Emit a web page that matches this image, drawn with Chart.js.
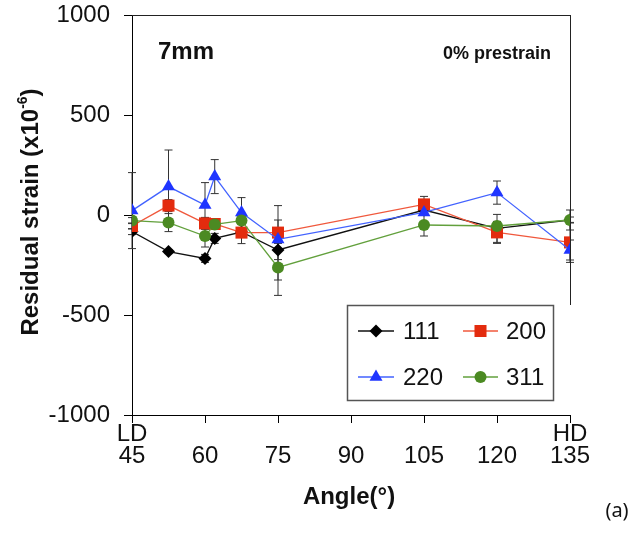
<!DOCTYPE html>
<html>
<head>
<meta charset="utf-8">
<script src="https://cdn.jsdelivr.net/npm/chart.js@4.4.0/dist/chart.umd.min.js"></script>
<style>
  html, body { margin: 0; padding: 0; background: #fff; }
  #wrap { position: relative; width: 631px; height: 533px; }
</style>
</head>
<body>
<div id="wrap"><canvas id="strainChart" width="631" height="533"></canvas></div>
<script>
// ===== DATA =====
const angles = [45, 52.5, 60, 62, 67.5, 75, 105, 120, 135];
const xTicks = [45, 60, 75, 90, 105, 120, 135];
const xTickTop = { 45: "LD", 135: "HD" };
const yTicks = [-1000, -500, 0, 500, 1000];

const strain111 = [-83, -183, -217, -117, -85, -175, 25, -67, -25];
const strain200 = [-55, 47, -42, -45, -88, -88, 53, -87, -137];
const strain220 = [22, 142, 50, 192, 12, -122, 13, 112, -175];
const strain311 = [-28, -38, -105, -47, -28, -262, -50, -55, -25];

const err111 = [15, 10, 20, 25, 20, 150, 15, 70, 15];
const err200 = [15, 30, 30, 20, 55, 135, 40, 55, 100];
const err220 = [190, 183, 112, 85, 75, 20, 10, 58, 50];
const err311 = [15, 45, 55, 15, 20, 140, 55, 20, 50];

const seriesNames = ["111", "200", "220", "311"];
const rightFrameEnd = -450; // right frame line stops here

const FONT = "'Liberation Sans', Arial, sans-serif";

// ===== SERIES STYLE =====
const series = [
  { name: seriesNames[0], values: strain111, err: err111, point: "#000000", line: "#111111", style: "rectRot", r: 6.5, order: 4 },
  { name: seriesNames[1], values: strain200, err: err200, point: "#e32b0e", line: "#f0583c", style: "rect", r: 8.5, order: 3 },
  { name: seriesNames[2], values: strain220, err: err220, point: "#1f35ff", line: "#4262ff", style: "triangle", r: 7.5, order: 2 },
  { name: seriesNames[3], values: strain311, err: err311, point: "#4b8a22", line: "#62a03c", style: "circle", r: 6, order: 1 }
];

// ===== ERROR BARS + FRAME + TEXT =====
const extrasPlugin = {
  id: "extras",
  beforeDatasetsDraw(chart) {
    const ctx = chart.ctx, xs = chart.scales.x, ys = chart.scales.y, a = chart.chartArea;
    ctx.save();
    ctx.beginPath();
    ctx.rect(a.left - 10, a.top, a.right - a.left + 20, a.bottom - a.top);
    ctx.clip();
    ctx.strokeStyle = "#333";
    ctx.lineWidth = 1;
    series.forEach(s => {
      s.values.forEach((v, j) => {
        const x = xs.getPixelForValue(angles[j]);
        const yHi = ys.getPixelForValue(v + s.err[j]);
        const yLo = ys.getPixelForValue(v - s.err[j]);
        ctx.beginPath();
        ctx.moveTo(x, yHi); ctx.lineTo(x, yLo);
        ctx.moveTo(x - 4, yHi); ctx.lineTo(x + 4, yHi);
        ctx.moveTo(x - 4, yLo); ctx.lineTo(x + 4, yLo);
        ctx.stroke();
      });
    });
    ctx.restore();

    // frame top + right
    ctx.save();
    ctx.strokeStyle = "#222";
    ctx.lineWidth = 1;
    ctx.beginPath();
    ctx.moveTo(a.left, a.top + 0.5); ctx.lineTo(a.right, a.top + 0.5);
    ctx.moveTo(a.right + 0.5, a.top); ctx.lineTo(a.right + 0.5, ys.getPixelForValue(rightFrameEnd));
    ctx.stroke();
    ctx.restore();
  },
  afterDraw(chart) {
    const ctx = chart.ctx;
    ctx.save();
    ctx.fillStyle = "#111";

    // panel labels
    ctx.textBaseline = "alphabetic";
    ctx.textAlign = "left";
    ctx.font = "bold 24px " + FONT;
    ctx.fillText("7mm", 158, 59);
    ctx.textAlign = "right";
    ctx.font = "bold 18px " + FONT;
    ctx.fillText("0% prestrain", 551, 59);

    // y title with superscript
    ctx.save();
    ctx.translate(31, 212);
    ctx.rotate(-Math.PI / 2);
    const main = "Residual strain (x10", sup = "-6", close = ")";
    ctx.font = "bold 24px " + FONT;
    const w1 = ctx.measureText(main).width, w3 = ctx.measureText(close).width;
    ctx.font = "bold 14px " + FONT;
    const w2 = ctx.measureText(sup).width;
    let x0 = -(w1 + w2 + w3) / 2;
    ctx.textAlign = "left";
    ctx.textBaseline = "middle";
    ctx.font = "bold 24px " + FONT;
    ctx.fillText(main, x0, 0);
    ctx.font = "bold 14px " + FONT;
    ctx.fillText(sup, x0 + w1, -8);
    ctx.font = "bold 24px " + FONT;
    ctx.fillText(close, x0 + w1 + w2, 0);
    ctx.restore();

    // x title
    ctx.textAlign = "center";
    ctx.textBaseline = "middle";
    ctx.font = "bold 24px " + FONT;
    ctx.fillText("Angle(°)", 349, 497);

    // (a)
    ctx.font = "20px 'Noto Sans', sans-serif";
    ctx.fillText("(a)", 617, 511);

    // legend
    ctx.strokeStyle = "#555";
    ctx.lineWidth = 1.5;
    ctx.strokeRect(347.5, 305.5, 206, 95);
    const cols = [{ l: 358, r: 394, t: 403 }, { l: 463, r: 498, t: 506 }];
    const rows = [331, 377];
    series.forEach((s, i) => {
      const c = cols[i % 2], y = rows[Math.floor(i / 2)];
      ctx.strokeStyle = s.line;
      ctx.lineWidth = 1.3;
      ctx.beginPath();
      ctx.moveTo(c.l, y); ctx.lineTo(c.r, y);
      ctx.stroke();
      ctx.fillStyle = s.point;
      Chart.helpers.drawPoint(ctx, { pointStyle: s.style, radius: s.r, rotation: 0, borderWidth: 0 }, (c.l + c.r) / 2, y);
      ctx.fillStyle = "#111";
      ctx.font = "24px " + FONT;
      ctx.textAlign = "left";
      ctx.textBaseline = "middle";
      ctx.fillText(s.name, c.t, y + 1);
    });
    ctx.restore();
  }
};

// ===== CHART =====
new Chart(document.getElementById("strainChart"), {
  type: "line",
  data: {
    datasets: series.map(s => ({
      label: s.name,
      data: angles.map((a, j) => ({ x: a, y: s.values[j] })),
      borderColor: s.line,
      borderWidth: 1.3,
      backgroundColor: s.point,
      pointBackgroundColor: s.point,
      pointBorderWidth: 0,
      pointStyle: s.style,
      pointRadius: s.r,
      tension: 0,
      order: s.order
    }))
  },
  options: {
    responsive: false,
    animation: false,
    layout: { padding: { left: 0, right: 61, top: 15, bottom: 0 } },
    plugins: { legend: { display: false }, tooltip: { enabled: false } },
    scales: {
      x: {
        type: "linear",
        min: 45, max: 135,
        afterBuildTicks: s => { s.ticks = xTicks.map(v => ({ value: v })); },
        afterFit: s => { s.height = 118; s.paddingLeft = 0; s.paddingRight = 0; },
        ticks: {
          color: "#111",
          font: { family: FONT, size: 24, lineHeight: 0.92 },
          padding: 0,
          maxRotation: 0,
          autoSkip: false,
          callback: v => [xTickTop[v] || "", String(v)]
        },
        grid: { drawOnChartArea: false, tickLength: 8, color: "#000" },
        border: { color: "#000", width: 1 }
      },
      y: {
        min: -1000, max: 1000,
        afterBuildTicks: s => { s.ticks = yTicks.map(v => ({ value: v })); },
        afterFit: s => { s.width = 132; s.paddingTop = 0; s.paddingBottom = 0; },
        ticks: {
          color: "#111",
          font: { family: FONT, size: 24 },
          padding: 14,
          callback: v => String(v)
        },
        grid: { drawOnChartArea: false, tickLength: 8, color: "#000" },
        border: { color: "#000", width: 1 }
      }
    }
  },
  plugins: [extrasPlugin]
});
</script>
</body>
</html>
